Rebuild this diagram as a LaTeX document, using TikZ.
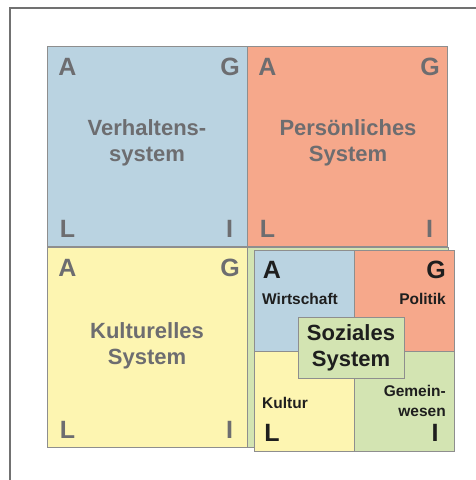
\documentclass[tikz,border=0pt]{standalone}
\usepackage{fontspec}
\setmainfont{Liberation Sans}
\usetikzlibrary{positioning}

\definecolor{blau}{HTML}{BAD3E1}
\definecolor{lachs}{HTML}{F6A88B}
\definecolor{gelb}{HTML}{FDF5B1}
\definecolor{gruen}{HTML}{D3E4B2}
\definecolor{grautext}{HTML}{6D6D70}
\definecolor{rand}{HTML}{8E8E8E}
\definecolor{dunkel}{HTML}{1E1E1E}

\tikzset{
  feld/.style={draw=rand, line width=0.9pt},
  ecke/.style={font=\fontsize{25}{25}\selectfont\bfseries, text=grautext, inner sep=0pt},
  eckeinnen/.style={ecke, text=dunkel},
  titel/.style={font=\fontsize{22}{26}\selectfont\bfseries, text=grautext, align=center, inner sep=0pt},
  klein/.style={font=\fontsize{15.5}{20}\selectfont\bfseries, text=dunkel, inner sep=0pt},
}

\begin{document}
\begin{tikzpicture}[x=1pt,y=-1pt]
\useasboundingbox (0,0) rectangle (476,480);
\draw[rand!80!black, line width=1.3pt] (10,480) -- (10,8) -- (476,8);

% drei grosse Felder mit AGIL-Ecken
\foreach \x/\y/\f/\n in {47/46/blau/verh, 247/46/lachs/pers, 47/247/gelb/kult}{
  \fill[\f] (\x,\y) rectangle ++(200,200);
  \draw[feld] (\x,\y) rectangle ++(200,200);
  \node[ecke] (\n-A) at (\x+20.5,\y+21) {A};
  \node[ecke] (\n-G) at (\x+183,\y+21) {G};
  \node[ecke] (\n-L) at (\x+20.5,\y+182.5) {L};
  \node[ecke] (\n-I) at (\x+182.5,\y+182.5) {I};
}
\node[titel] (verh) at (147,143) {Verhaltens-\\system};
\node[titel] (pers) at (348,143) {Persönliches\\System};
\node[titel] (kult) at (147,346) {Kulturelles\\System};

% viertes Feld: soziales System
\fill[gruen] (247,247) rectangle (448,447);
\draw[feld] (247,247) rectangle (448,447);

\coordinate (so) at (254,250);
\coordinate (sm) at (354,351);
\coordinate (se) at (454,451);
\fill[blau] (so) rectangle (sm);
\fill[lachs] (sm |- so) rectangle (se |- sm);
\fill[gelb] (so |- sm) rectangle (sm |- se);
\fill[gruen] (sm) rectangle (se);
\draw[feld] (so) rectangle (se);
\draw[feld] (sm |- so) -- (sm |- se);
\draw[feld] (so |- sm) -- (se |- sm);

\node[eckeinnen] (soz-A) at (272,270) {A};
\node[eckeinnen] (soz-G) at (436,270) {G};
\node[eckeinnen] (soz-L) at (272,433) {L};
\node[eckeinnen] (soz-I) at (435,433) {I};

\node[klein, anchor=base west] (wirt) at (262,304) {Wirtschaft};
\node[klein, anchor=base east] (poli) at (446,304) {Politik};
\node[klein, anchor=base west] (kultur) at (262,408) {Kultur};
\node[klein, anchor=east, align=right] (gem) at (446,401) {Gemein-\\wesen};

\node[feld, fill=gruen, minimum width=106pt, minimum height=61pt, inner sep=0pt,
  font=\fontsize{22}{26}\selectfont\bfseries, text=dunkel, align=center] (soz) at (351,347.5) {Soziales\\System};
\end{tikzpicture}
\end{document}
